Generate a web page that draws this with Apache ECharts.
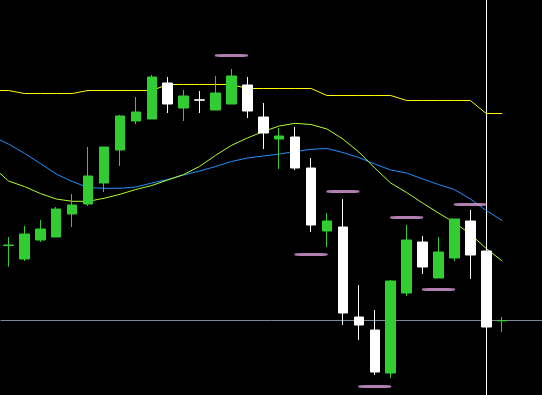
<!DOCTYPE html>
<html>
<head>
<meta charset="utf-8">
<script src="https://cdn.jsdelivr.net/npm/echarts@6/dist/echarts.min.js"></script>
<style>
html,body{margin:0;padding:0;background:#000;}
#chart{width:542px;height:395px;}
</style>
</head>
<body>
<div id="chart"></div>
<script>
// Bar labels (34 slots; last two are empty space to the right)
var categories = ['1','2','3','4','5','6','7','8','9','10','11','12','13','14','15','16','17','18','19','20','21','22','23','24','25','26','27','28','29','30','31','32','33','34'];

// OHLC as [open, close, low, high]
var candles = [
  [149.5,150,128.3,158],
  [136,161,134,169],
  [155,166,153,175],
  [158,186,158,188],
  [181,190,168,201],
  [191,219,189,248],
  [212,248,203,248],
  [245,279,229,280],
  [274,283,271,298],
  [276,318,276,320],
  [312,291,282,318],
  [287,299,274,305],
  [295.2,294.8,282,304],
  [285,302,285,319],
  [291,319,291,326],
  [310,284,277,318],
  [278,262,246,292],
  [256,259,226,267],
  [258,227,225,268],
  [227,170,163,237],
  [164,174,148,182],
  [168,82,70,196],
  [78,70,55,110],
  [65,23,20,85],
  [22,114,17,115],
  [102,155,99,170],
  [153,128,121,159],
  [117,143,117,158],
  [137,176,134,176],
  [174,140,116,185],
  [144,68,68,149],
  [74.2,74.5,63,78]
];

// Indicator lines, one value per bar; the first value belongs to the bar before bar 1
var lineBars = [-1,0,1,2,3,4,5,6,7,8,9,10,11,12,13,14,15,16,17,18,19,20,21,22,23,24,25,26,27,28,29,30,31];
var yellowLine = [304.5,304.5,301.5,301.5,301.5,301.5,304.5,304.5,304.5,304.5,304.5,310.5,310.5,310.5,310.5,310.5,306.5,306.5,306.5,306.5,306.5,299.5,299.5,299.5,299.5,299.5,294.5,294.5,294.5,294.5,294.5,281.5,281.5];
var greenLine = [228.5,214,208.5,201.5,196,193.7,193.7,196.7,200.7,205.5,209.5,215,220.5,228.6,239.6,249.6,257,263.5,269,271.7,270.5,266,256,243,227,212,202.5,192,182,172.5,161,146.5,134];
var blueLine = [258.7,251,241.7,231.5,221,213.5,207.5,206.7,206.7,208,212,215.5,220,224,228.5,233.5,237,239,241,243.5,245.7,246.5,242.5,237.5,231,225,222,216,210.5,205.5,196,184.5,174.5];

// Pink level markers: bar index and price
var markerBars = [14,21,19,25,23,27,29];
var markerValues = [339.5,203.5,140.5,177.5,8.5,105.5,190.5];

var cursorBar = 30;

function pairs(xs, ys){ return xs.map(function(x,i){ return [x, ys[i]]; }); }

var chart = echarts.init(document.getElementById('chart'), null, {renderer:'canvas'});
var lastClose = candles[candles.length-1][1];

chart.setOption({
  backgroundColor: '#000000',
  animation: false,
  grid: {left: 0.5, top: 0, width: 544, height: 395, containLabel: false},
  xAxis: [
    {type:'category', data: categories, boundaryGap: true, show: false},
    {type:'value', min: -0.5, max: 33.5, show: false}
  ],
  yAxis: [{type:'value', min: 0, max: 395, show: false, splitLine:{show:false}}],
  series: [
    {
      type: 'line', xAxisIndex: 1, data: pairs(lineBars, yellowLine),
      showSymbol: false, symbol: 'none', lineStyle: {color: '#ffff00', width: 1}, z: 2
    },
    {
      type: 'line', xAxisIndex: 1, data: pairs(lineBars, blueLine),
      showSymbol: false, symbol: 'none', lineStyle: {color: '#1e90ff', width: 1}, z: 2
    },
    {
      type: 'line', xAxisIndex: 1, data: pairs(lineBars, greenLine),
      showSymbol: false, symbol: 'none', lineStyle: {color: '#adff2f', width: 1}, z: 2
    },
    {
      type: 'candlestick', xAxisIndex: 0, data: candles,
      barWidth: 10,
      itemStyle: {
        color: '#32cd32', borderColor: '#32cd32',
        color0: '#ffffff', borderColor0: '#ffffff', borderWidth: 1
      },
      z: 3,
      markLine: {
        silent: true, symbol: 'none', label: {show: false}, animation: false, z: 1,
        data: [
          {yAxis: lastClose, lineStyle: {color: '#778899', width: 1, type: 'solid'}},
          {xAxis: cursorBar, lineStyle: {color: '#ffffff', width: 1, type: 'solid'}}
        ]
      }
    },
    {
      type: 'scatter', xAxisIndex: 1, data: pairs(markerBars, markerValues),
      symbol: 'roundRect', symbolSize: [33, 3],
      itemStyle: {color: '#dda0dd'}, z: 4
    }
  ]
});
</script>
</body>
</html>
